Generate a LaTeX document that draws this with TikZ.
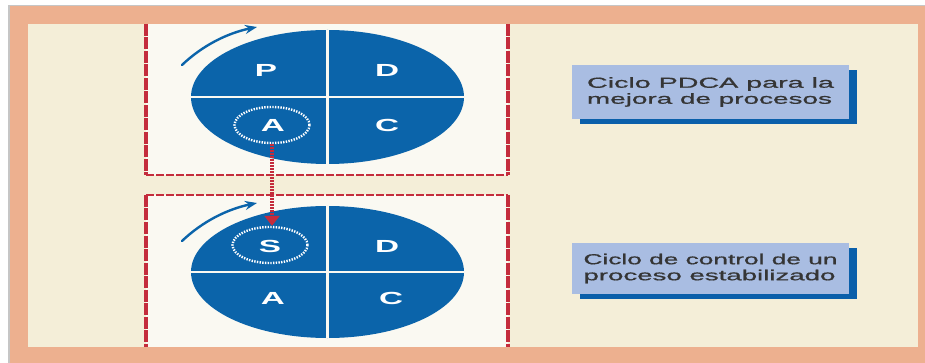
\documentclass[tikz,border=0pt]{standalone}
\usepackage{fontspec}
\setmainfont{Liberation Sans}
\newfontfamily\labelfont[FakeBold=0.7]{Liberation Sans}
\usepackage{graphicx}
\usetikzlibrary{shapes.geometric,arrows.meta,shadows}
\definecolor{salmon}{HTML}{EDB08F}
\definecolor{cream}{HTML}{F4EED8}
\definecolor{boxwhite}{HTML}{FAF9F2}
\definecolor{cycleblue}{HTML}{0B64AA}
\definecolor{dashred}{HTML}{C42C3C}
\definecolor{labelblue}{HTML}{A9BDE2}
\definecolor{shadowblue}{HTML}{0A5FAA}
\definecolor{textgray}{HTML}{353535}
\begin{document}
\begin{tikzpicture}[x=1pt,y=-1pt,
  pdca/.style={ellipse, fill=cycleblue, inner sep=0pt, minimum width=273pt},
  divider/.style={draw=boxwhite, line width=2.6pt},
  letter/.style={text=white, inner sep=0pt, font=\bfseries\fontsize{17.5}{17.5}\selectfont},
  ring/.style={ellipse, draw=white, line width=2.4pt, dash pattern=on 1.4pt off 1.3pt,
    minimum width=75pt, minimum height=36pt, inner sep=0pt},
  vdash/.style={draw=dashred, line width=4.5pt, dash pattern=on 12pt off 1.5pt},
  hdash/.style={draw=dashred, line width=2.6pt, dash pattern=on 8pt off 2pt},
  cyclearrow/.style={draw=cycleblue, line width=2.4pt, line cap=round,
    -{Stealth[length=12pt,width=9pt]}},
  linkarrow/.style={draw=dashred, line width=3.8pt, dash pattern=on 2pt off 1pt,
    -{Triangle[length=10pt,width=15pt]}},
  labelbox/.style={fill=labelblue, minimum width=277pt, inner sep=0pt, text=textgray,
    align=left, font=\labelfont\fontsize{14.5}{16}\selectfont,
    drop shadow={shadow xshift=8pt, shadow yshift=-5pt, fill=shadowblue, opacity=1}}
]
\useasboundingbox (0,0) rectangle (925,363);
% background and frame
\fill[white] (0,0) rectangle (925,363);
\fill[gray!45] (8,5) rectangle (925,363);
\fill[salmon] (10,6) rectangle (925,363);
\fill[cream] (28,24) rectangle (918,347);
% white dashed panels
\fill[boxwhite] (146,24) rectangle (508,175);
\fill[boxwhite] (146,195) rectangle (508,347);
\draw[vdash] (146,24) -- (146,175);
\draw[vdash] (508,24) -- (508,175);
\draw[hdash] (146,175) -- (508,175);
\draw[vdash] (146,195) -- (146,347);
\draw[vdash] (508,195) -- (508,347);
\draw[hdash] (146,195) -- (508,195);
% top cycle
\node[pdca, minimum height=134pt] (e1) at (327.5,97) {};
\draw[divider] (e1.west) -- (e1.east);
\draw[divider] (e1.north) -- (e1.south);
\node[letter] (p1) at (266,70) {\scalebox{1.9}[1]{P}};
\node[letter] (d1) at (387,70) {\scalebox{1.9}[1]{D}};
\node[ring] (a1ring) at (272,125) {};
\node[letter] (a1) at (273,125) {\scalebox{1.9}[1]{A}};
\node[letter] (c1) at (387,125) {\scalebox{1.9}[1]{C}};
% bottom cycle
\node[pdca, minimum height=132pt] (e2) at (327.5,272) {};
\draw[divider] (e2.west) -- (e2.east);
\draw[divider] (e2.north) -- (e2.south);
\node[ring] (s2ring) at (270,245) {};
\node[letter] (s2) at (270,246) {\scalebox{1.9}[1]{S}};
\node[letter] (d2) at (387,246) {\scalebox{1.9}[1]{D}};
\node[letter] (a2) at (273,298) {\scalebox{1.9}[1]{A}};
\node[letter] (c2) at (391,298) {\scalebox{1.9}[1]{C}};
% rotation arrows
\coordinate (r1s) at (182,65);
\coordinate (r1e) at (257,27);
\coordinate (r2s) at (182,241);
\coordinate (r2e) at (257,203);
\draw[cyclearrow] (r1s) .. controls (203,45) and (228,33) .. (r1e);
\draw[cyclearrow] (r2s) .. controls (203,221) and (228,209) .. (r2e);
% link arrow A -> S
\draw[linkarrow] (a1ring.south) -- (a1ring.south |- s2ring.north);
% labels
\node[labelbox, minimum height=54pt] (t1) at (710.5,92)
  {\resizebox{247pt}{\height}{Ciclo PDCA para la}\\
   \resizebox{245pt}{\height}{mejora de procesos}};
\node[labelbox, minimum height=51pt] (t2) at (710.5,268.5)
  {\resizebox{254pt}{\height}{Ciclo de control de un}\\
   \resizebox{252pt}{\height}{proceso estabilizado}};
\end{tikzpicture}
\end{document}
